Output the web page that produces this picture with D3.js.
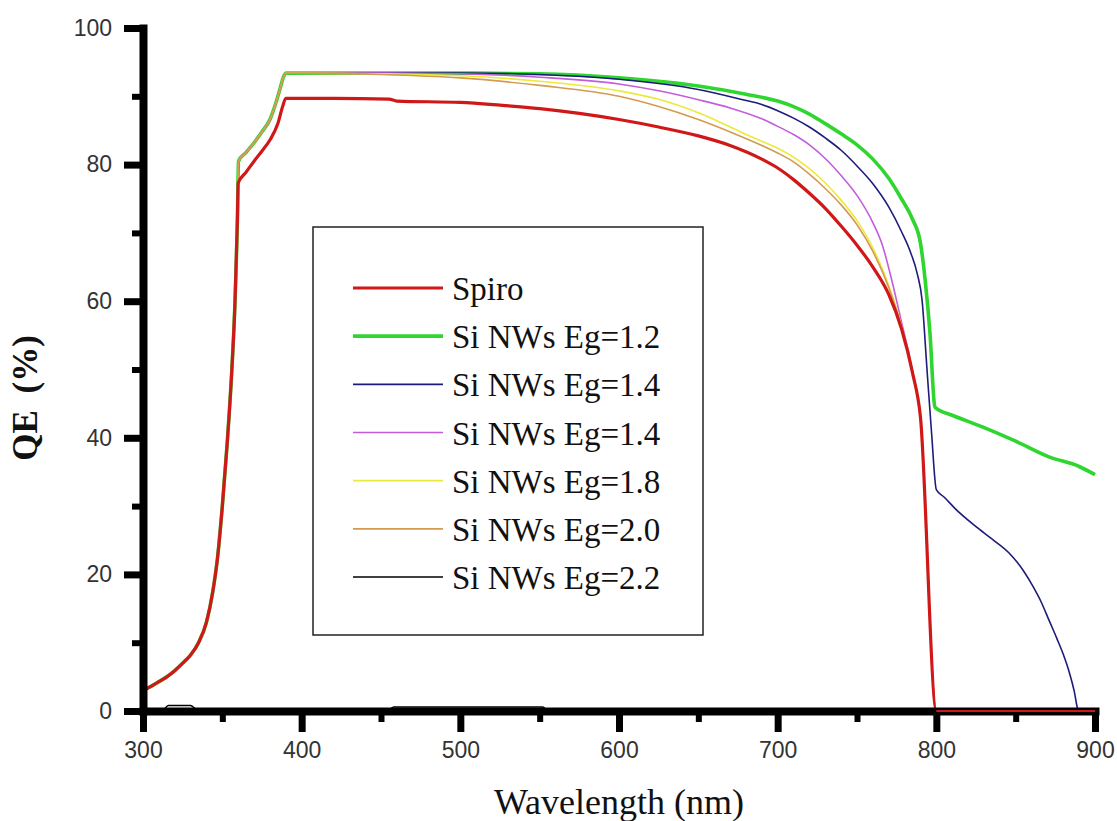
<!DOCTYPE html>
<html>
<head>
<meta charset="utf-8">
<script src="https://cdn.jsdelivr.net/npm/d3@7"></script>
<style>
  body { margin: 0; background: #fff; }
  svg { display: block; }
</style>
</head>
<body>
<svg id="qe-chart"></svg>
<script>
// QE curves, [wavelength nm, QE %]
// shared rising edge of all curves
const riseCommon = [[300,3.0],[305,3.6],[310,4.3],[315,5.0],[320,5.9],[325,7.0],[330,8.2],[335,10.0],[340,13.0],[344,17.5],[347,22.5],[350,30.0],[353,39.0],[356,50.0],[358,60.0],[359.5,72.0]];
// nanowire curves share this shoulder
const riseNW = [[360.2,80.5],[365,81.8],[370,83.2],[375,84.8],[380,86.6],[383,88.5],[386,90.8],[389,93.1],[390,93.4],[395,93.4]];

const spiro = [[360,77.3],[365,78.9],[370,80.5],[375,82.0],[380,83.6],[385,86.0],[388,88.5],[390,89.7],[395,89.7],[420,89.7],[455,89.6],[460,89.3],[500,89.1],[525,88.7],[550,88.2],[575,87.5],[600,86.6],[625,85.5],[650,84.2],[670,82.8],[690,80.8],[700,79.5],[710,77.8],[720,75.8],[730,73.6],[740,71.0],[750,68.2],[760,65.0],[770,61.0],[778,56.0],[785,49.5],[790,43.0],[800,0],[850,0],[900,0]];
const eg12 = [[450,93.4],[500,93.4],[550,93.3],[600,92.7],[650,91.5],[680,90.3],[700,89.3],[710,88.5],[720,87.4],[730,86.0],[740,84.5],[750,82.9],[760,80.8],[770,78.0],[778,75.0],[785,72.0],[790,68.5],[793,63.0],[796,55.3],[799,44.6],[800,44.3],[810,43.3],[829,41.6],[850,39.5],[871,37.2],[890,35.8],[900,34.6]];
const eg14a = [[450,93.4],[500,93.4],[550,93.2],[600,92.5],[650,91.0],[678,89.5],[690,88.8],[700,87.9],[710,86.8],[720,85.5],[730,83.9],[740,82.1],[750,79.8],[760,77.2],[770,73.8],[778,70.2],[784,67.0],[788,64.0],[791,60.2],[794,50.4],[797,40.7],[800,32.4],[805,31.3],[812,29.6],[825,27.0],[835,25.2],[846,23.1],[855,20.5],[861,18.2],[866,16.0],[871,13.3],[876,10.6],[880,8.3],[884,5.5],[887,2.8],[889,0.4],[890,0],[900,0]];
const eg14b = [[450,93.4],[500,93.3],[550,92.8],[600,91.8],[625,90.8],[650,89.5],[670,88.3],[690,86.7],[700,85.6],[710,84.4],[720,82.9],[730,80.9],[740,78.4],[750,75.5],[760,71.5],[766,68.2],[772,63.0],[778,57.0],[785,49.8],[790,43.0],[800,0],[850,0],[900,0]];
const eg18 = [[450,93.3],[500,93.0],[550,92.2],[600,90.8],[626,89.5],[650,87.6],[683,84.1],[700,82.4],[710,81.1],[720,79.4],[730,77.3],[740,74.8],[750,71.8],[760,67.8],[770,62.3],[778,56.4],[785,49.6],[790,43.0],[800,0],[850,0],[900,0]];
const eg20 = [[450,93.2],[500,92.7],[550,91.6],[600,90.0],[625,88.5],[650,86.6],[672,84.6],[690,82.8],[700,81.7],[710,80.4],[720,78.6],[730,76.5],[740,74.1],[750,71.2],[760,67.3],[770,62.0],[778,56.3],[785,49.6],[790,43.0],[800,0],[850,0],[900,0]];
const eg22 = [[300,0],[312,0],[316,0.8],[330,0.8],[334,0.2],[455,0.2],[458,0.6],[552,0.6],[555,0],[700,0],[900,0]];

const legendNames = ["Spiro", "Si NWs Eg=1.2", "Si NWs Eg=1.4", "Si NWs Eg=1.4", "Si NWs Eg=1.8", "Si NWs Eg=2.0", "Si NWs Eg=2.2"];
const xTicks = [300, 400, 500, 600, 700, 800, 900];
const xMinor = [350, 450, 550, 650, 750, 850];
const yTicks = [0, 20, 40, 60, 80, 100];
const yMinor = [10, 30, 50, 70, 90];

// series table, styles kept apart from values
const series = [
    { name: legendNames[0], data: riseCommon.concat(spiro), color: "#d01818", width: 3.2 },
    { name: legendNames[1], data: riseCommon.concat(riseNW, eg12), color: "#2fd62f", width: 3.6 },
    { name: legendNames[2], data: riseCommon.concat(riseNW, eg14a), color: "#1c1c7a", width: 1.6 },
    { name: legendNames[3], data: riseCommon.concat(riseNW, eg14b), color: "#c45ddc", width: 1.6 },
    { name: legendNames[4], data: riseCommon.concat(riseNW, eg18), color: "#eaea3c", width: 1.6 },
    { name: legendNames[5], data: riseCommon.concat(riseNW, eg20), color: "#d49a50", width: 1.6 },
    { name: legendNames[6], data: eg22, color: "#000000", width: 1.5 }
];

const width = 1117;
const height = 821;
const svg = d3.select("#qe-chart").attr("width", width).attr("height", height);

const x = d3.scaleLinear().domain([300, 900]).range([143, 1095]);
const y = d3.scaleLinear().domain([0, 100]).range([711, 28]);
const y0 = y(0);
const x0 = x(300);

// draw order: green underneath, red on top
const drawOrder = [1, 2, 3, 4, 5, 0, 6];
const line = d3.line()
    .x(d => x(d[0]))
    .y(d => y(d[1]))
    .curve(d3.curveMonotoneX);

svg.append("g")
    .selectAll("path")
    .data(drawOrder.map(i => series[i]))
    .join("path")
    .attr("fill", "none")
    .attr("stroke", d => d.color)
    .attr("stroke-width", d => d.width)
    .attr("stroke-linejoin", "round")
    .attr("d", d => line(d.data));

// axes: major + minor ticks, heavy black lines
function styleAxis(g, w) {
    g.selectAll(".tick line").attr("stroke", "#000").attr("stroke-width", w);
    g.selectAll(".tick text")
        .attr("fill", "#333")
        .style("font-family", "'Liberation Sans', Arial, sans-serif")
        .style("font-size", "23px");
}

const xMinorG = svg.append("g")
    .attr("transform", `translate(0,${y0})`)
    .call(d3.axisBottom(x).tickValues(xMinor).tickSize(11).tickFormat(""));
xMinorG.select(".domain").remove();
styleAxis(xMinorG, 6);

const yMinorG = svg.append("g")
    .attr("transform", `translate(${x0},0)`)
    .call(d3.axisLeft(y).tickValues(yMinor).tickSize(11).tickFormat(""));
yMinorG.select(".domain").remove();
styleAxis(yMinorG, 6);

const xAxis = svg.append("g")
    .attr("transform", `translate(0,${y0})`)
    .call(d3.axisBottom(x).tickValues(xTicks).tickSize(21).tickSizeOuter(0).tickPadding(10).tickFormat(d3.format("d")));
xAxis.select(".domain").attr("stroke", "#000").attr("stroke-width", 8).attr("stroke-linecap", "square");
styleAxis(xAxis, 7);

const yAxis = svg.append("g")
    .attr("transform", `translate(${x0},0)`)
    .call(d3.axisLeft(y).tickValues(yTicks).tickSize(19).tickSizeOuter(0).tickPadding(12).tickFormat(d3.format("d")));
yAxis.select(".domain").attr("stroke", "#000").attr("stroke-width", 8).attr("stroke-linecap", "square");
styleAxis(yAxis, 7);

// red curve sits on the x axis past 800, keep it visible
svg.append("path")
    .attr("fill", "none")
    .attr("stroke", series[0].color)
    .attr("stroke-width", 2)
    .attr("d", line(spiro.filter(d => d[0] >= 800)));

// axis titles
svg.append("text")
    .attr("x", (x(300) + x(900)) / 2)
    .attr("y", 814)
    .attr("text-anchor", "middle")
    .style("font-family", "'Liberation Serif', 'Times New Roman', serif")
    .style("font-size", "36px")
    .attr("fill", "#111")
    .text("Wavelength (nm)");

svg.append("text")
    .attr("transform", "translate(37,398) rotate(-90)")
    .attr("text-anchor", "middle")
    .style("font-family", "'Liberation Serif', 'Times New Roman', serif")
    .style("font-size", "35px")
    .style("font-weight", "bold")
    .style("word-spacing", "8px")
    .attr("fill", "#111")
    .text("QE (%)");

// legend box
const legend = svg.append("g");
legend.append("rect")
    .attr("x", 313).attr("y", 227)
    .attr("width", 390).attr("height", 408)
    .attr("fill", "#fff")
    .attr("stroke", "#222")
    .attr("stroke-width", 1.5);

const rowY = d3.scalePoint().domain(d3.range(series.length)).range([288, 577]);
const items = legend.selectAll("g.item")
    .data(series)
    .join("g")
    .attr("class", "item")
    .attr("transform", (d, i) => `translate(0,${rowY(i)})`);

items.append("line")
    .attr("x1", 353).attr("x2", 443)
    .attr("stroke", d => d.color)
    .attr("stroke-width", d => d.width);

items.append("text")
    .attr("x", 452)
    .attr("y", 12)
    .style("font-family", "'Liberation Serif', 'Times New Roman', serif")
    .style("font-size", "33px")
    .attr("fill", "#111")
    .text(d => d.name);
</script>
</body>
</html>
